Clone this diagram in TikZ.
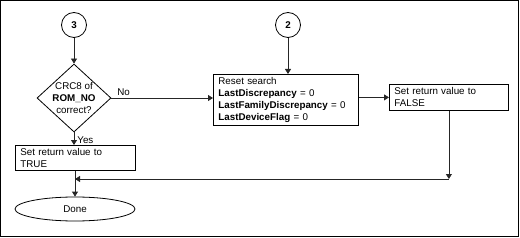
\documentclass[tikz,border=0pt]{standalone}
\usepackage{fontspec}
\setmainfont{Liberation Sans}
\usetikzlibrary{shapes.geometric}
\usetikzlibrary{arrows.meta}
\tikzset{>={Triangle[length=5pt,width=6pt]}}
\colorlet{linecol}{black!85}
\tikzstyle{flow}=[draw=black,line width=0.8pt,font=\fontsize{9.8}{12}\selectfont]
\tikzstyle{conn}=[flow,circle,minimum size=25pt,inner sep=0pt,font=\fontsize{9.8}{12}\selectfont\bfseries]
\tikzstyle{stepbox}=[flow,rectangle,anchor=north west,align=left,inner xsep=5pt,inner ysep=1.5pt]
\tikzstyle{arr}=[->,draw=linecol,line width=0.8pt]

\begin{document}
\begin{tikzpicture}[x=1pt,y=-1pt]
  % frame with the same proportions as the reference
  \useasboundingbox (0,0) rectangle (520,238);
  \draw[line width=1pt] (0.5,0.5) rectangle (518,236.5);

  % connectors
  \node[conn] (c3) at (74,25) {3};
  \node[conn] (c2) at (288,25) {2};

  % decision
  \node[flow,diamond,minimum width=74pt,minimum height=68pt,inner sep=0pt] (crc) at (74,98) {};
  \node[align=center,inner sep=0pt,font=\fontsize{9.8}{12}\selectfont] (crctxt) at (crc) {CRC8 of\\\textbf{ROM\_NO}\\correct?};

  % process boxes
  \node[stepbox,text width=135pt,minimum height=51pt] (reset) at (213,74)
    {Reset search\\\textbf{LastDiscrepancy} = 0\\\textbf{LastFamilyDiscrepancy} = 0\\\textbf{LastDeviceFlag} = 0};
  \node[stepbox,text width=109pt,minimum height=26pt] (false) at (389,84)
    {Set return value to\\FALSE};
  \node[stepbox,text width=110pt,minimum height=25pt] (true) at (15,145)
    {Set return value to\\TRUE};

  % terminator
  \node[flow,ellipse,minimum width=120pt,minimum height=24pt,inner sep=0pt] (done) at (75,209) {Done};

  \coordinate (join) at (false.south |- 0,179);

  % arrows
  \draw[arr] (c3) -- (crc.north);
  \draw[arr] (c2) -- (c2 |- reset.north);
  \draw[arr] (crc.east) -- node[pos=0.12,above,inner sep=2pt,font=\fontsize{9.8}{12}\selectfont] (no) {No} (crc.east -| reset.west);
  \draw[arr] (false.west -| reset.east) -- (false.west);
  \draw[arr] (crc.south) -- node[pos=0.6,right,inner sep=3pt,font=\fontsize{9.8}{12}\selectfont] (yes) {Yes} (true.north -| crc.south);
  \draw[arr] (true.south -| done.north) -- (done.north);
  \draw[arr] (false.south) -- (join);
  \draw[arr] (join) -- (join -| done.north);
\end{tikzpicture}
\end{document}
